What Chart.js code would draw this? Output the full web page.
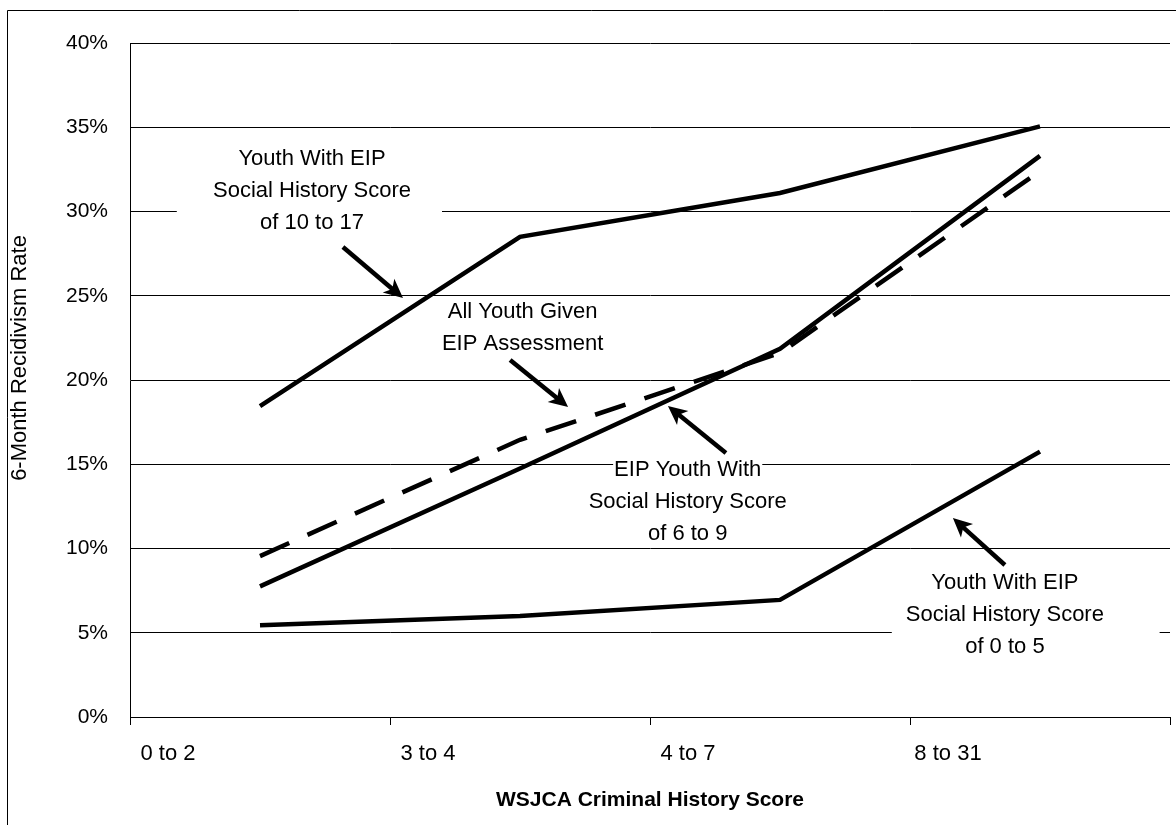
<!DOCTYPE html>
<html lang="en">
<head>
  <meta charset="UTF-8">
  <title>6-Month Recidivism Rate by WSJCA Criminal History Score</title>
  <script src="https://cdn.jsdelivr.net/npm/chart.js"></script>
  <style>
    html, body {
      margin: 0;
      padding: 0;
      background: #fff;
    }
    #wrap {
      width: 1176px;
      height: 825px;
    }
  </style>
</head>
<body>
  <div id="wrap"><canvas id="chart" width="1176" height="825"></canvas></div>
  <script>
    // WSJCA criminal history score groups
    const categories = ['0 to 2', '3 to 4', '4 to 7', '8 to 31'];

    // 6-month recidivism rate (%) for each EIP group
    const score10to17 = [18.45, 28.5, 31.1, 35.05];
    const allYouth = [9.55, 16.45, 21.6, 32.4];
    const score6to9 = [7.75, 14.75, 21.85, 33.3];
    const score0to5 = [5.45, 6.0, 6.95, 15.75];

    const yMin = 0;
    const yMax = 40;
    const yStep = 5;

    const FONT = "'Liberation Sans', Arial, sans-serif";

    // callout texts, placed in data units (x = category index, y = percent)
    const notes = [
      { lines: ['Youth With EIP', 'Social History Score', 'of 10 to 17'], x: 0.2, y: 31.2, box: [-0.32, 0.7] },
      { lines: ['All Youth Given', 'EIP Assessment'], x: 1.01, y: 23.1 },
      { lines: ['EIP Youth With', 'Social History Score', 'of 6 to 9'], x: 1.645, y: 12.75 },
      { lines: ['Youth With EIP', 'Social History Score', 'of 0 to 5'], x: 2.865, y: 6.05, box: [2.43, 3.46] }
    ];

    // arrows: from [x, y] to [x, y], data units
    const arrows = [
      { from: [0.319, 27.89], to: [0.55, 24.87] },
      { from: [0.962, 21.19], to: [1.185, 18.4] },
      { from: [1.792, 15.67], to: [1.569, 18.46] },
      { from: [2.865, 9.02], to: [2.665, 11.81] }
    ];

    const LINE_GAP = 32;

    function noteLineY(chart, note, k) {
      const cy = chart.scales.y.getPixelForValue(note.y);
      return cy + (k - (note.lines.length - 1) / 2) * LINE_GAP;
    }

    const decor = {
      id: 'decor',
      beforeDraw(chart) {
        const ctx = chart.ctx;
        ctx.save();
        ctx.fillStyle = '#fff';
        ctx.fillRect(0, 0, chart.width, chart.height);
        // frame of the original (left and top edge only)
        ctx.strokeStyle = '#000';
        ctx.lineWidth = 1;
        ctx.beginPath();
        ctx.moveTo(7.5, chart.height);
        ctx.lineTo(7.5, 10.5);
        ctx.lineTo(chart.width, 10.5);
        ctx.stroke();
        // y axis title
        ctx.translate(20, 358);
        ctx.rotate(-Math.PI / 2);
        ctx.font = '22px ' + FONT;
        ctx.fillStyle = '#000';
        ctx.textAlign = 'center';
        ctx.textBaseline = 'middle';
        ctx.fillText('6-Month Recidivism Rate', 0, 0);
        ctx.restore();
      },
      beforeDatasetsDraw(chart) {
        // white text boxes hide the gridlines behind the callouts
        const ctx = chart.ctx;
        const xs = chart.scales.x;
        ctx.save();
        ctx.fillStyle = '#fff';
        ctx.font = '22px ' + FONT;
        notes.forEach(note => {
          const top = noteLineY(chart, note, 0) - 13;
          const bottom = noteLineY(chart, note, note.lines.length - 1) + 13;
          if (note.box) {
            const x0 = xs.getPixelForValue(note.box[0]);
            const x1 = xs.getPixelForValue(note.box[1]);
            ctx.fillRect(x0, top, x1 - x0, bottom - top);
          } else {
            const cx = xs.getPixelForValue(note.x);
            note.lines.forEach((line, k) => {
              const w = ctx.measureText(line).width + 2;
              ctx.fillRect(cx - w / 2, noteLineY(chart, note, k) - 9, w, 20);
            });
          }
        });
        ctx.restore();
      },
      afterDraw(chart) {
        const ctx = chart.ctx;
        const xs = chart.scales.x;
        const ys = chart.scales.y;
        ctx.save();
        ctx.fillStyle = '#000';
        ctx.font = '22px ' + FONT;
        ctx.textAlign = 'center';
        ctx.textBaseline = 'middle';
        notes.forEach(note => {
          const cx = xs.getPixelForValue(note.x);
          note.lines.forEach((line, k) => ctx.fillText(line, cx, noteLineY(chart, note, k)));
        });

        ctx.strokeStyle = '#000';
        ctx.lineWidth = 4.5;
        arrows.forEach(a => {
          const x0 = xs.getPixelForValue(a.from[0]);
          const y0 = ys.getPixelForValue(a.from[1]);
          const x1 = xs.getPixelForValue(a.to[0]);
          const y1 = ys.getPixelForValue(a.to[1]);
          const ang = Math.atan2(y1 - y0, x1 - x0);
          const headLen = 19;
          const headW = 9;
          const cos = Math.cos(ang);
          const sin = Math.sin(ang);
          const bx = x1 - headLen * cos;
          const by = y1 - headLen * sin;
          ctx.beginPath();
          ctx.moveTo(x0, y0);
          ctx.lineTo(x1 - 12 * cos, y1 - 12 * sin);
          ctx.stroke();
          ctx.beginPath();
          ctx.moveTo(x1, y1);
          ctx.lineTo(bx + headW * sin, by - headW * cos);
          ctx.lineTo(x1 - 14 * cos, y1 - 14 * sin);
          ctx.lineTo(bx - headW * sin, by + headW * cos);
          ctx.closePath();
          ctx.fill();
        });
        ctx.restore();
      }
    };

    function series(data, dashed) {
      return {
        data: data,
        borderColor: '#000',
        backgroundColor: '#000',
        borderWidth: 4.5,
        borderDash: dashed ? [32, 20] : [],
        pointRadius: 0,
        tension: 0,
        fill: false
      };
    }

    new Chart(document.getElementById('chart'), {
      type: 'line',
      data: {
        labels: categories,
        datasets: [
          series(score10to17),
          series(allYouth, true),
          series(score6to9),
          series(score0to5)
        ]
      },
      options: {
        responsive: false,
        animation: false,
        layout: { padding: { left: 0, top: 43, right: 6, bottom: 0 } },
        plugins: {
          legend: { display: false },
          tooltip: { enabled: false }
        },
        scales: {
          x: {
            offset: true,
            grid: { offset: true, drawOnChartArea: false, drawTicks: true, tickLength: 8, color: '#000' },
            border: { display: true, color: '#000', width: 1 },
            ticks: {
              labelOffset: -92,
              padding: 16,
              color: '#000',
              maxRotation: 0,
              autoSkip: false,
              font: { family: FONT, size: 22 }
            },
            title: {
              display: true,
              text: 'WSJCA Criminal History Score',
              color: '#000',
              font: { family: FONT, size: 21, weight: 'bold' },
              padding: { top: 0, bottom: 12 }
            },
            afterFit(scale) { scale.height = 108; }
          },
          y: {
            min: yMin,
            max: yMax,
            grid: { color: '#000', drawTicks: false },
            border: { display: true, color: '#000', width: 1 },
            ticks: {
              stepSize: yStep,
              padding: 22,
              color: '#000',
              font: { family: FONT, size: 21 },
              callback: v => v + '%'
            },
            afterFit(scale) { scale.width = 130; }
          }
        }
      },
      plugins: [decor]
    });
  </script>
</body>
</html>
